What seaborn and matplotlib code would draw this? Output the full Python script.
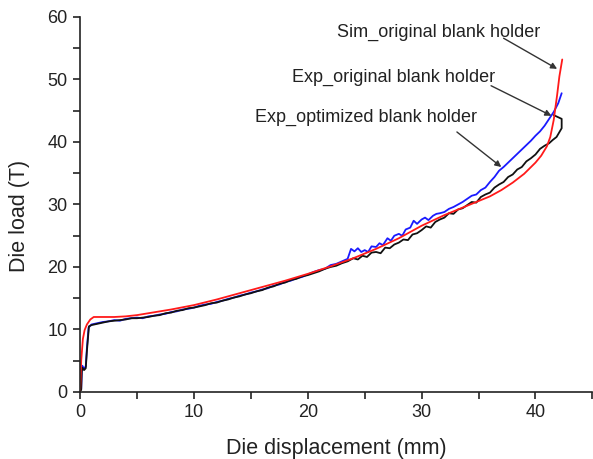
import matplotlib
matplotlib.use("Agg")
import matplotlib.pyplot as plt
from matplotlib.ticker import MultipleLocator
import seaborn as sns
import pandas as pd

# ---- data ----
sim_x = [0, 0.05, 0.1, 0.25, 0.4, 0.6, 0.9, 1.2, 2, 3, 4, 5, 6, 7, 8, 10, 12, 14, 16, 18,
         20, 22, 24, 26, 28, 30, 32, 34, 36, 37, 38, 39, 40, 40.5, 41, 41.3, 41.6, 41.9, 42.1, 42.35]
sim_y = [0, 2, 5, 8.5, 9.9, 10.8, 11.6, 12.0, 12.0, 12.0, 12.1, 12.3, 12.6, 12.9, 13.2, 13.9, 14.8, 15.8, 16.8, 17.8,
         18.9, 20.1, 21.4, 22.9, 24.6, 26.6, 28.3, 29.8, 31.3, 32.3, 33.5, 34.9, 36.7, 37.8, 39.3, 40.8, 43.5, 47.5, 50.5, 53.2]

exp_orig_x = [0.10, 0.15, 0.20, 0.35, 0.50, 0.60, 0.75, 1.0, 1.5, 2.0, 2.5, 3.0, 3.5, 4.0, 4.5, 5.0, 5.5, 6.0, 6.5,
              7.0, 7.5, 8.0, 8.5, 9.0, 9.5, 10.0, 10.5, 11.0, 11.5, 12.0, 12.5, 13.0, 13.5, 14.0, 14.5, 15.0,
              15.5, 16.0, 16.5, 17.0, 17.5, 18.0, 18.5, 19.0, 19.5, 20.0, 20.5, 21.0, 21.5, 22.0, 22.5, 23.0,
              23.5, 23.8, 24.1, 24.4, 24.7, 25.0, 25.3, 25.6, 26.0, 26.3, 26.6, 27.0, 27.3, 27.6, 28.0, 28.3,
              28.6, 29.0, 29.3, 29.6, 30.0, 30.3, 30.6, 31.0, 31.3, 31.6, 32.0, 32.4, 32.8, 33.2, 33.6, 34.0,
              34.4, 34.8, 35.2, 35.6, 36.0, 36.4, 36.8, 37.2, 37.6, 38.0, 38.4, 38.8, 39.2, 39.6, 40.0, 40.4,
              40.8, 41.2, 41.6, 42.0, 42.3]
exp_orig_y = [0.5, 3.5, 4.2, 3.7, 4.1, 7.0, 10.3, 10.8, 11.0, 11.2, 11.3, 11.5, 11.4, 11.7, 11.8, 11.9, 11.8, 12.1, 12.2,
              12.4, 12.5, 12.8, 12.9, 13.2, 13.3, 13.5, 13.8, 14.0, 14.1, 14.4, 14.6, 14.9, 15.1, 15.4, 15.6, 15.9,
              16.1, 16.4, 16.6, 17.0, 17.2, 17.6, 17.8, 18.2, 18.4, 18.8, 19.2, 19.5, 19.7, 20.3, 20.5, 20.9,
              21.3, 22.9, 22.5, 23.0, 22.4, 22.7, 22.4, 23.3, 23.2, 23.8, 23.5, 24.6, 24.2, 25.0, 25.3, 25.0,
              26.0, 26.3, 27.4, 26.9, 27.6, 27.9, 27.5, 28.2, 28.5, 28.6, 28.8, 29.3, 29.6, 30.0, 30.4, 30.9,
              31.4, 31.6, 32.3, 32.7, 33.6, 34.4, 35.4, 36.0, 36.7, 37.4, 38.1, 38.8, 39.5, 40.2, 41.0, 41.7,
              42.6, 43.7, 44.8, 46.2, 47.8]

exp_opt_x = [0.10, 0.15, 0.20, 0.35, 0.50, 0.60, 0.78, 1.0, 1.5, 2.0, 2.5, 3.0, 3.5, 4.0, 4.5, 5.0, 5.5, 6.0, 6.5,
             7.0, 7.5, 8.0, 8.5, 9.0, 9.5, 10.0, 10.5, 11.0, 11.5, 12.0, 12.5, 13.0, 13.5, 14.0, 14.5, 15.0,
             15.5, 16.0, 16.5, 17.0, 17.5, 18.0, 18.5, 19.0, 19.5, 20.0, 20.5, 21.0, 21.5, 22.0, 22.5, 23.0,
             23.5, 24.0, 24.4, 24.8, 25.2, 25.6, 26.0, 26.4, 26.8, 27.2, 27.6, 28.0, 28.4, 28.8, 29.2, 29.6,
             30.0, 30.4, 30.8, 31.2, 31.6, 32.0, 32.4, 32.8, 33.2, 33.6, 34.0, 34.4, 34.8, 35.2, 35.6, 36.0,
             36.4, 36.8, 37.2, 37.6, 38.0, 38.4, 38.8, 39.2, 39.6, 40.0, 40.4, 40.8, 41.2, 41.5, 41.85, 42.3,
             42.3, 41.6]
exp_opt_y = [0.3, 3.2, 3.9, 3.5, 3.8, 6.5, 10.5, 10.7, 10.9, 11.1, 11.3, 11.4, 11.5, 11.6, 11.8, 11.8, 11.9, 12.0, 12.2,
             12.3, 12.6, 12.7, 13.0, 13.1, 13.4, 13.5, 13.7, 13.9, 14.2, 14.3, 14.6, 14.8, 15.1, 15.3, 15.6, 15.8,
             16.1, 16.3, 16.7, 16.9, 17.3, 17.5, 17.9, 18.1, 18.5, 18.7, 19.0, 19.3, 19.7, 20.0, 20.2, 20.6,
             20.9, 21.4, 21.2, 21.8, 21.6, 22.3, 22.4, 22.2, 23.1, 23.0, 23.6, 23.9, 24.4, 24.3, 25.2, 25.4,
             25.9, 26.5, 26.3, 27.2, 27.6, 27.9, 28.6, 28.5, 29.2, 29.4, 29.9, 30.4, 30.3, 31.2, 31.6, 31.9,
             32.7, 33.2, 33.6, 34.4, 34.8, 35.6, 36.0, 36.9, 37.4, 38.0, 38.9, 39.4, 39.8, 40.3, 40.8, 42.2,
             43.7, 44.3]

series_names = ["Sim_original blank holder", "Exp_original blank holder", "Exp_optimized blank holder"]
series_colors = ["#ff1a1a", "#1a1aff", "#111111"]

frames = []
for name, xs, ys in [(series_names[1], exp_orig_x, exp_orig_y),
                     (series_names[2], exp_opt_x, exp_opt_y),
                     (series_names[0], sim_x, sim_y)]:
    df = pd.DataFrame({"x": xs, "y": ys})
    df["series"] = name
    frames.append(df)
data = pd.concat(frames, ignore_index=True)

sns.set_style("ticks")
plt.rcParams["font.family"] = ["Liberation Sans", "DejaVu Sans"]

fig = plt.figure(figsize=(5.93, 4.59), dpi=100)
ax = fig.add_axes([0.135, 0.146, 0.864, 0.817])

palette = {series_names[0]: series_colors[0], series_names[1]: series_colors[1], series_names[2]: series_colors[2]}
sns.lineplot(data=data, x="x", y="y", hue="series", units="series", estimator=None, sort=False,
             palette=palette, linewidth=1.3, legend=False, ax=ax,
             hue_order=[series_names[1], series_names[2], series_names[0]])

ax.set_xlim(0, 45)
ax.set_ylim(0, 60)
ax.xaxis.set_major_locator(MultipleLocator(10))
ax.xaxis.set_minor_locator(MultipleLocator(5))
ax.yaxis.set_major_locator(MultipleLocator(10))
ax.yaxis.set_minor_locator(MultipleLocator(5))
ax.tick_params(which="major", length=5, width=1.2, labelsize=13, colors="#222222", pad=4)
ax.tick_params(which="minor", length=5, width=1.2, colors="#222222")
for s in ["top", "right"]:
    ax.spines[s].set_visible(False)
for s in ["left", "bottom"]:
    ax.spines[s].set_linewidth(1.2)
    ax.spines[s].set_color("#222222")

ax.set_xlabel("Die displacement (mm)", fontsize=15.5, color="#222222")
ax.set_ylabel("Die load (T)", fontsize=15.5, color="#222222")
ax.xaxis.set_label_coords(0.5, -0.122)
ax.yaxis.set_label_coords(-0.097, 0.47)

arrow = dict(arrowstyle="-|>", color="#333333", lw=1.0, mutation_scale=9, shrinkA=0, shrinkB=0)
fs = 13
ax.annotate("Sim_original blank holder", xy=(41.9, 51.7), xytext=(31.5, 57.6),
            ha="center", va="center", fontsize=fs, color="#222222")
ax.annotate("", xy=(41.9, 51.7), xytext=(37.2, 56.6), arrowprops=arrow)
ax.annotate("Exp_original blank holder", xy=(41.4, 44.2), xytext=(27.5, 50.4),
            ha="center", va="center", fontsize=fs, color="#222222")
ax.annotate("", xy=(41.4, 44.2), xytext=(36.1, 49.0), arrowprops=arrow)
ax.annotate("Exp_optimized blank holder", xy=(37.0, 36.0), xytext=(25.1, 44.0),
            ha="center", va="center", fontsize=fs, color="#222222")
ax.annotate("", xy=(37.0, 36.0), xytext=(33.1, 41.6), arrowprops=arrow)

fig.savefig("out.png", dpi=100)
